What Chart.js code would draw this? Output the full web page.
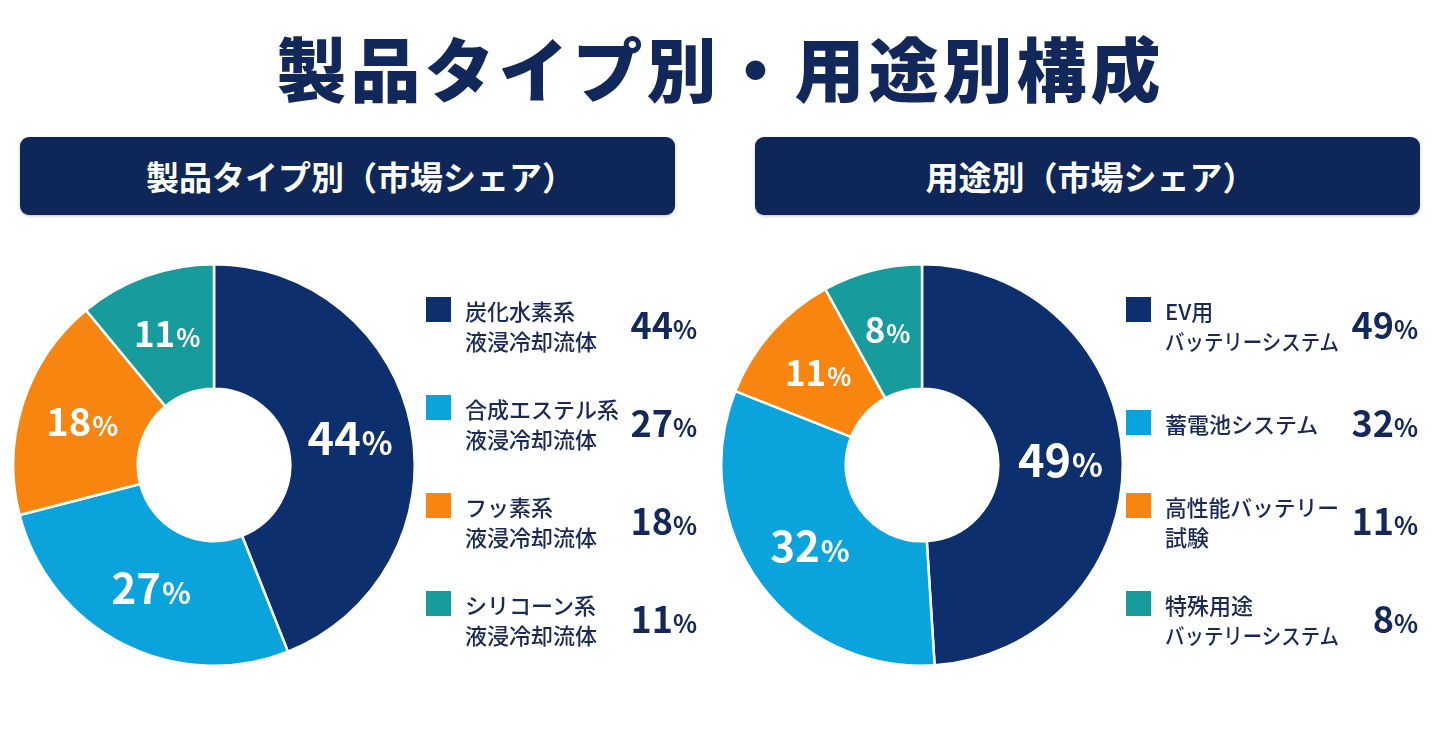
<!DOCTYPE html>
<html lang="ja">
<head>
<meta charset="utf-8">
<script src="https://cdn.jsdelivr.net/npm/chart.js@4.4.1/dist/chart.umd.min.js"></script>
<style>
  html, body { margin: 0; padding: 0; background: #ffffff; }
  body { width: 1441px; height: 735px; position: relative; overflow: hidden;
         font-family: "Noto Sans CJK JP", "Noto Sans", sans-serif; color: #14295a; }
  #title { position: absolute; left: 0; width: 1441px; top: 22px; text-align: center;
           font-size: 70px; font-weight: 900; letter-spacing: 4px; line-height: 90px; color: #13285a; }
  .bar { position: absolute; top: 137px; height: 78px; background: #0f2758; border-radius: 9px;
         color: #fff; font-size: 33px; font-weight: 700; display: flex; align-items: center;
         justify-content: center; box-shadow: 0 1px 3px rgba(0,0,0,0.25); box-sizing: border-box; }
  .cv { position: absolute; }
  .item { position: absolute; height: 60px; }
  .txt { position: absolute; font-size: 22px; font-weight: 500; line-height: 30px; color: #1a2a55; white-space: nowrap; }
  .txt span { display: inline-block; transform-origin: left center; }
  .sq { position: absolute; width: 25px; height: 25px; }
  .pct { position: absolute; font-weight: 700; color: #14295a; text-align: right; white-space: nowrap; }
  .pct .n { font-size: 36px; }
  .pct .p { font-size: 25px; }
</style>
</head>
<body>
<div id="title"></div>
<div class="bar" id="bar1" style="left:20px; width:655px; padding-left:26px;"></div>
<div class="bar" id="bar2" style="left:755px; width:665px; padding-left:6px;"></div>

<canvas id="c1" class="cv" width="404" height="404" style="left:12px; top:263px;"></canvas>
<canvas id="c2" class="cv" width="404" height="404" style="left:720px; top:263px;"></canvas>
<div id="leg1"></div>
<div id="leg2"></div>

<script>
// ---- data ----
const mainTitle = "製品タイプ別・用途別構成";
const productTitle = "製品タイプ別（市場シェア）";
const productLabels = [
  ["炭化水素系", "液浸冷却流体"],
  ["合成エステル系", "液浸冷却流体"],
  ["フッ素系", "液浸冷却流体"],
  ["シリコーン系", "液浸冷却流体"]
];
const productShares = [44, 27, 18, 11];

const usageTitle = "用途別（市場シェア）";
const usageLabels = [
  ["EV用", "バッテリーシステム"],
  ["蓄電池システム"],
  ["高性能バッテリー", "試験"],
  ["特殊用途", "バッテリーシステム"]
];
const usageShares = [49, 32, 11, 8];

const sliceColors = ["#0d2f6e", "#0aa3dc", "#f7850f", "#179b9c"];

document.getElementById("title").textContent = mainTitle;
document.getElementById("bar1").textContent = productTitle;
document.getElementById("bar2").textContent = usageTitle;

// ---- slice label plugin ----
const FONT = '"Noto Sans CJK JP", "Noto Sans", sans-serif';
const sliceLabels = {
  id: "sliceLabels",
  afterDatasetsDraw(chart) {
    const ctx = chart.ctx;
    const meta = chart.getDatasetMeta(0);
    const vals = chart.data.datasets[0].data;
    meta.data.forEach((arc, i) => {
      const v = vals[i];
      const pos = arc.tooltipPosition();
      const big = v >= 40 ? 45 : v >= 25 ? 42 : v >= 15 ? 38 : 35;
      const small = Math.round(big * 0.72);
      ctx.save();
      ctx.fillStyle = "#ffffff";
      ctx.textBaseline = "alphabetic";
      ctx.textAlign = "left";
      const numStr = String(v);
      ctx.font = `700 ${big}px ${FONT}`;
      const wN = ctx.measureText(numStr).width;
      ctx.font = `700 ${small}px ${FONT}`;
      const wP = ctx.measureText("%").width;
      const total = wN + wP + 1;
      const x0 = pos.x - total / 2;
      const base = pos.y + big * 0.36;
      ctx.font = `700 ${big}px ${FONT}`;
      ctx.fillText(numStr, x0, base);
      ctx.font = `700 ${small}px ${FONT}`;
      ctx.fillText("%", x0 + wN + 1, base);
      ctx.restore();
    });
  }
};

function makeChart(id, labels, values) {
  return new Chart(document.getElementById(id), {
    type: "doughnut",
    data: {
      labels: labels.map(l => l.join("")),
      datasets: [{
        data: values,
        backgroundColor: sliceColors,
        borderColor: "#ffffff",
        borderWidth: 2.5
      }]
    },
    options: {
      responsive: false,
      animation: false,
      cutout: "38%",
      layout: { padding: 0 },
      plugins: { legend: { display: false }, tooltip: { enabled: false } }
    },
    plugins: [sliceLabels]
  });
}

function makeLegend(elId, labels, values, sqX, txtX, pctRight, maxW) {
  const root = document.getElementById(elId);
  labels.forEach((lines, i) => {
    const top = 295 + i * 98;
    const item = document.createElement("div");
    item.className = "item";
    item.style.left = "0px";
    item.style.top = top + "px";
    item.style.width = "1441px";
    const h = lines.length * 30;
    const tTop = (60 - h) / 2;
    const sq = document.createElement("div");
    sq.className = "sq";
    sq.style.left = sqX + "px";
    sq.style.top = (tTop + 2) + "px";
    sq.style.background = sliceColors[i];
    const txt = document.createElement("div");
    txt.className = "txt";
    txt.style.left = txtX + "px";
    txt.style.top = tTop + "px";
    lines.forEach((ln, k) => {
      const s = document.createElement("span");
      s.textContent = ln;
      txt.appendChild(s);
      if (k < lines.length - 1) txt.appendChild(document.createElement("br"));
    });
    const pct = document.createElement("div");
    pct.className = "pct";
    pct.style.right = (1441 - pctRight) + "px";
    pct.style.top = "6px";
    pct.style.lineHeight = "44px";
    pct.innerHTML = `<span class="n">${values[i]}</span><span class="p">%</span>`;
    item.appendChild(sq); item.appendChild(txt); item.appendChild(pct);
    root.appendChild(item);
    // compress over-long lines horizontally
    txt.querySelectorAll("span").forEach(s => {
      const w = s.getBoundingClientRect().width;
      if (w > maxW) s.style.transform = `scaleX(${maxW / w})`;
    });
  });
}

makeChart("c1", productLabels, productShares);
makeChart("c2", usageLabels, usageShares);
makeLegend("leg1", productLabels, productShares, 426, 465, 697, 160);
makeLegend("leg2", usageLabels, usageShares, 1126, 1165, 1418, 174);
</script>
</body>
</html>
